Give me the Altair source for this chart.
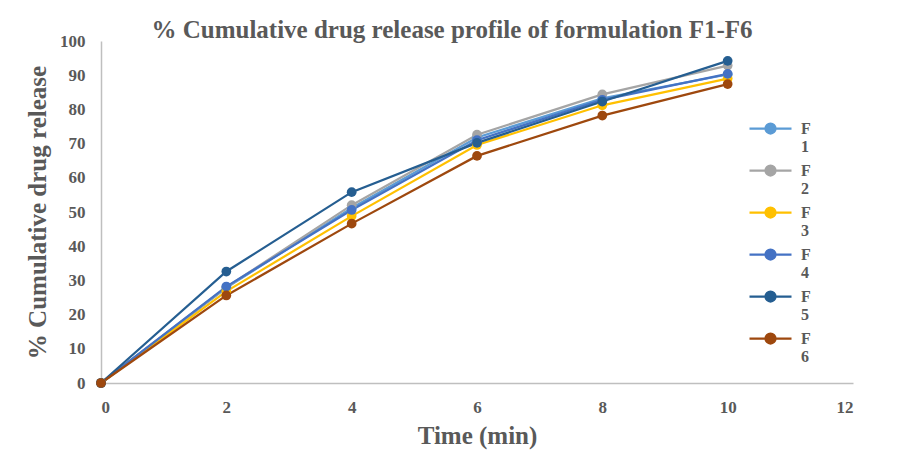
import altair as alt
import pandas as pd

time_min = [0, 2, 4, 6, 8, 10]
series_names = ["F1", "F2", "F3", "F4", "F5", "F6"]
F1 = [0, 27.8, 51.2, 71.8, 83.2, 90.2]
F2 = [0, 28.0, 52.0, 72.6, 84.4, 92.8]
F3 = [0, 26.8, 48.8, 69.6, 81.2, 89.0]
F4 = [0, 28.2, 50.6, 71.0, 82.8, 90.4]
F5 = [0, 32.6, 55.8, 70.2, 82.3, 94.2]
F6 = [0, 25.6, 46.6, 66.4, 78.2, 87.4]
colors = ["#5B9BD5", "#A5A5A5", "#FFC000", "#4472C4", "#255E91", "#9E480E"]

values = [F1, F2, F3, F4, F5, F6]
rows = []
for name, vals in zip(series_names, values):
    for t, v in zip(time_min, vals):
        rows.append({"Time": t, "Release": v, "Formulation": name})
df = pd.DataFrame(rows)

FONT = "Liberation Serif"
GREY = "#595959"

# line with a dot, unit = 10px when symbolSize=400
legend_path = "M-2.1,0H2.1M-0.5,0A0.5,0.5,0,1,1,0.5,0A0.5,0.5,0,1,1,-0.5,0Z"

color = alt.Color(
    "Formulation:N",
    scale=alt.Scale(domain=series_names, range=colors),
    legend=alt.Legend(
        title=None,
        orient="none",
        legendX=658,
        legendY=76,
        symbolType=legend_path,
        symbolSize=400,
        symbolStrokeWidth=2.25,
        labelFont=FONT,
        labelFontSize=16,
        labelFontWeight="bold",
        labelColor=GREY,
        labelOffset=19,
        labelBaseline="middle",
        rowPadding=4,
        labelExpr="[substring(datum.label,0,1), substring(datum.label,1)]",
    ),
)

x = alt.X(
    "Time:Q",
    scale=alt.Scale(domain=[0, 12], nice=False),
    axis=alt.Axis(
        title="Time (min)",
        values=[0, 2, 4, 6, 8, 10, 12],
        grid=False,
        ticks=False,
        labelPadding=16,
        titlePadding=8,
    ),
)
y = alt.Y(
    "Release:Q",
    scale=alt.Scale(domain=[0, 100], nice=False),
    axis=alt.Axis(
        title="% Cumulative drug release",
        values=list(range(0, 101, 10)),
        grid=False,
        ticks=False,
        labelPadding=16,
        titlePadding=9,
    ),
)

base = alt.Chart(df)
lines = base.mark_line(strokeWidth=2.25).encode(x=x, y=y, color=color, order="Time:Q")
points = base.mark_point(filled=True, size=95, opacity=1).encode(x=x, y=y, color=color)

chart = (
    alt.layer(lines, points)
    .properties(
        width=752,
        height=342,
        title=alt.TitleParams(
            "% Cumulative drug release profile of formulation F1-F6",
            font=FONT,
            fontSize=25,
            fontWeight="bold",
            color=GREY,
            anchor="middle",
            dx=-25,
            dy=33,
            offset=2,
            baseline="alphabetic",
        ),
        autosize=alt.AutoSizeParams(type="none"),
        padding={"left": 93, "top": 33, "right": 43, "bottom": 69},
    )
    .configure(background="white")
    .configure_view(stroke=None)
    .configure_axis(
        labelFont=FONT,
        labelFontSize=17,
        labelFontWeight="bold",
        labelColor=GREY,
        titleFont=FONT,
        titleFontSize=25,
        titleFontWeight="bold",
        titleColor=GREY,
        domainColor="#BFBFBF",
        domainWidth=1.5,
    )
)

chart.save("out.html", embed_options={"renderer": "svg", "actions": False})
